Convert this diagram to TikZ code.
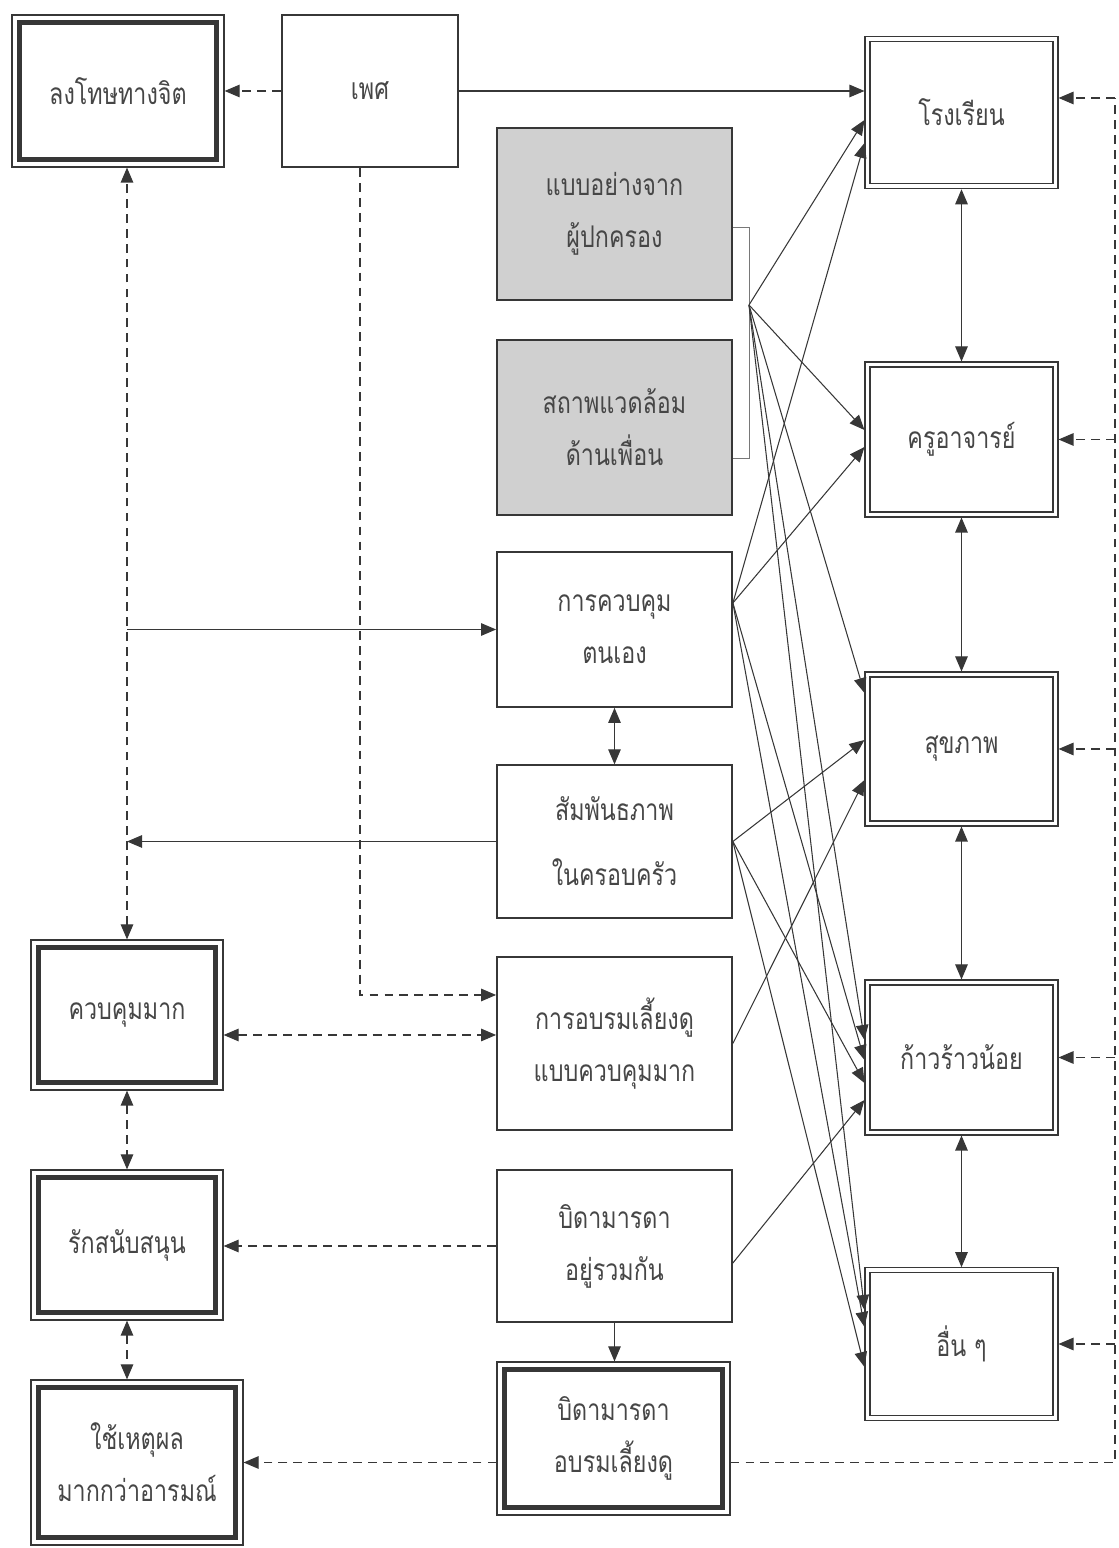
\documentclass[tikz,border=0pt]{standalone}
\usepackage{fontspec}
\newfontfamily\thai[Script=Thai, FakeStretch=0.78]{Loma}
\usepackage{tikz}
\usetikzlibrary{arrows.meta,positioning,calc}
\tikzset{every node/.append style={align=center}}
\definecolor{linecolor}{RGB}{55, 55, 55}
\definecolor{textcolor}{RGB}{70, 70, 70}
\definecolor{shadecolor}{RGB}{208, 208, 208}
\definecolor{bracketcolor}{RGB}{120, 120, 120}

\begin{document}
\begin{tikzpicture}[
    font={\thai\fontsize{17pt}{29.5pt}\selectfont},
    text=textcolor,
    >={Triangle[length=0.3cm, width=0.25cm]},
    plainbox/.style={draw=linecolor, line width=1pt, minimum width=4.7cm, minimum height=3.05cm, inner sep=0pt},
    shadebox/.style={plainbox, fill=shadecolor},
    thinframe/.style={draw=linecolor, line width=0.6pt, minimum width=3.86cm, minimum height=3.05cm, inner sep=0pt,
        path picture={\draw[linecolor, line width=0.8pt] ([shift={(0.1,0.1)}]path picture bounding box.south west) rectangle ([shift={(-0.1,-0.1)}]path picture bounding box.north east);}},
    thickframe/.style={draw=linecolor, line width=0.7pt, minimum width=3.84cm, minimum height=3.0cm, inner sep=0pt,
        path picture={\draw[linecolor, line width=2.8pt] ([shift={(0.15,0.15)}]path picture bounding box.south west) rectangle ([shift={(-0.15,-0.15)}]path picture bounding box.north east);}},
    arrow/.style={->, line width=0.6pt, linecolor},
    bothway/.style={<->, line width=0.6pt, linecolor},
    dashline/.style={line width=0.7pt, linecolor, dash pattern=on 5pt off 3.5pt},
    dasharrow/.style={dashline, ->},
    dashboth/.style={dashline, <->},
    bracket/.style={line width=0.5pt, bracketcolor}
]
    \useasboundingbox (0, 0) rectangle (22.38, 30.96);

    % Left column
    \node[thickframe, minimum width=4.24cm, minimum height=3.04cm] (punish) at (2.36, 29.14) {ลงโทษทางจิต};
    \node[thickframe] (strong) at (2.54, 10.66) {ควบคุมมาก};
    \node[thickframe] (support) at (2.54, 6.06) {รักสนับสนุน};
    \node[thickframe, minimum width=4.24cm, minimum height=3.3cm] (reason) at (2.74, 1.71) {ใช้เหตุผล\\มากกว่าอารมณ์};

    % Middle column
    \node[plainbox, minimum width=3.52cm] (sex) at (7.40, 29.14) {เพศ};
    \node[shadebox, minimum height=3.44cm] (model) at (12.29, 26.68) {แบบอย่างจาก\\ผู้ปกครอง};
    \node[shadebox, minimum height=3.5cm] (peer) at (12.29, 22.41) {สถาพแวดล้อม\\ด้านเพื่อน};
    \node[plainbox, minimum height=3.1cm] (selfctl) at (12.29, 18.37) {การควบคุม\\ตนเอง};
    \node[plainbox] (family) at (12.29, 14.13) {สัมพันธภาพ\\[0.26cm]ในครอบครัว};
    \node[plainbox, minimum height=3.46cm] (strict) at (12.29, 10.09) {การอบรมเลี้ยงดู\\แบบควบคุมมาก};
    \node[plainbox] (together) at (12.29, 6.04) {บิดามารดา\\อยู่รวมกัน};
    \node[thickframe, minimum width=4.66cm, minimum height=3.06cm] (parenting) at (12.27, 2.19) {บิดามารดา\\อบรมเลี้ยงดู};

    % Right column
    \node[thinframe] (school) at (19.23, 28.71) {โรงเรียน};
    \node[thinframe, minimum height=3.1cm] (teacher) at (19.23, 22.17) {ครูอาจารย์};
    \node[thinframe, minimum height=3.08cm] (health) at (19.23, 15.98) {สุขภาพ};
    \node[thinframe, minimum height=3.1cm] (lowaggr) at (19.23, 9.81) {ก้าวร้าวน้อย};
    \node[thinframe] (others) at (19.23, 4.08) {อื่น ๆ};

    % Bracket round the two shaded boxes
    \coordinate (brtop) at (14.98, 26.42);
    \coordinate (brbot) at (14.98, 21.80);
    \coordinate (src) at (14.98, 24.86);
    \draw[bracket] (brtop -| model.east) -- (brtop) -- (brbot) -- (brbot -| peer.east);

    % Left side arrows
    \draw[dasharrow] (sex) -- (punish);
    \draw[arrow] (sex.east) -- (sex.east -| school.west);
    \draw[dasharrow] ([xshift=-0.2cm]sex.south) |- ([yshift=0.97cm]strict.west);
    \draw[dashboth] (strong.north) -- (strong.north |- punish.south);
    \draw[arrow] (selfctl.west -| strong.north) -- (selfctl.west);
    \draw[arrow] (family.west) -- (family.west -| strong.north);
    \draw[bothway] (selfctl) -- (family);
    \draw[dashboth] ([yshift=-0.4cm]strong.east) -- ([yshift=-0.4cm]strong.east -| strict.west);
    \draw[dashboth] (strong) -- (support);
    \draw[dashboth] (support.south) -- (support.south |- reason.north);
    \draw[dasharrow] (together.west) -- (together.west -| support.east);
    \draw[arrow] (together.south) -- (together.south |- parenting.north);
    \draw[dasharrow] (reason.east -| parenting.west) -- (reason.east);

    % Fan to the right column
    \draw[arrow] (src) -- ([yshift=-0.15cm]school.west);
    \draw[arrow] (src) -- ([yshift=0.19cm]teacher.west);
    \draw[arrow] (src) -- ([yshift=1.12cm]health.west);
    \draw[arrow] (src) -- ([yshift=0.35cm]lowaggr.west);
    \draw[arrow] (src) -- ([yshift=0.68cm]others.west);
    \draw[arrow] ([yshift=0.53cm]selfctl.east) -- ([yshift=-0.61cm]school.west);
    \draw[arrow] ([yshift=0.53cm]selfctl.east) -- ([yshift=-0.15cm]teacher.west);
    \draw[arrow] ([yshift=0.53cm]selfctl.east) -- ([yshift=-0.05cm]lowaggr.west);
    \draw[arrow] ([yshift=0.53cm]selfctl.east) -- ([yshift=0.34cm]others.west);
    \draw[arrow] (family.east) -- ([yshift=0.18cm]health.west);
    \draw[arrow] (family.east) -- ([yshift=-0.51cm]lowaggr.west);
    \draw[arrow] (family.east) -- ([yshift=-0.46cm]others.west);
    \draw[arrow] (strict.east) -- ([yshift=-0.62cm]health.west);
    \draw[arrow] ([yshift=-0.34cm]together.east) -- ([yshift=-0.85cm]lowaggr.west);

    % Right column links
    \draw[bothway] (school) -- (teacher);
    \draw[bothway] (teacher) -- (health);
    \draw[bothway] (health) -- (lowaggr);
    \draw[bothway] (lowaggr) -- (others);

    % Feedback rail
    \coordinate (railtop) at (22.30, 29.00);
    \draw[dashline] (reason.east -| parenting.east) -| (railtop);
    \draw[dasharrow] (railtop) -- (railtop -| school.east);
    \draw[dasharrow] (teacher.east -| railtop) -- (teacher.east);
    \draw[dasharrow] (health.east -| railtop) -- (health.east);
    \draw[dasharrow] (lowaggr.east -| railtop) -- (lowaggr.east);
    \draw[dasharrow] (others.east -| railtop) -- (others.east);

\end{tikzpicture}
\end{document}
